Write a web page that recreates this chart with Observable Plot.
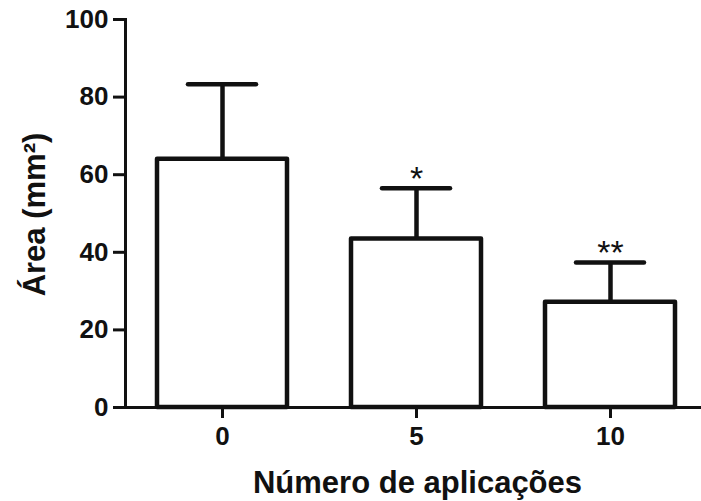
<!DOCTYPE html>
<html>
<head>
<meta charset="utf-8">
<script src="https://cdn.jsdelivr.net/npm/d3@7"></script>
<script src="https://cdn.jsdelivr.net/npm/@observablehq/plot@0.6"></script>
<style>
  html, body { margin: 0; padding: 0; background: #fff; }
</style>
</head>
<body>
<div id="chart"></div>
<script>
const categories = ["0", "5", "10"];
const means = [64.0, 43.4, 27.1];
const errors = [19.3, 13.1, 10.3];
const significance = ["", "*", "**"];
const yTicks = [0, 20, 40, 60, 80, 100];
const xTitle = "Número de aplicações";
const yTitle = "Área (mm²)";

const data = categories.map((c, i) => ({
  cat: c, mean: means[i], top: means[i] + errors[i], sig: significance[i]
}));

const font = "'Liberation Sans', Arial, Helvetica, sans-serif";

const chart = Plot.plot({
  width: 701,
  height: 501,
  marginLeft: 125,
  marginRight: 0,
  marginTop: 19,
  marginBottom: 94,
  style: { fontFamily: font, background: "#fff", color: "#111" },
  x: { type: "band", domain: categories, range: [125, 707], paddingInner: 0.33, paddingOuter: 0.165, label: null },
  y: { domain: [0, 100], label: null },
  marks: [
    Plot.ruleX(data, { x: "cat", y1: "mean", y2: "top", stroke: "#111", strokeWidth: 4.5 }),
    Plot.tickY(data, { x: "cat", y: "top", insetLeft: 31, insetRight: 31, stroke: "#111", strokeWidth: 4.5, strokeLinecap: "round" }),
    Plot.barY(data, { x: "cat", y: "mean", fill: "#fff", stroke: "#111", strokeWidth: 4.5, strokeLinejoin: "round" }),
    Plot.text(data, { x: "cat", y: "top", text: "sig", lineAnchor: "bottom", dy: 2, fontSize: 34, fill: "#111", fontFamily: font }),
    Plot.ruleY([0], { stroke: "#111", strokeWidth: 3 }),
    Plot.frame({ anchor: "left", stroke: "#111", strokeWidth: 3 }),
    Plot.axisY({ ticks: yTicks, tickSize: 12, tickPadding: 5, strokeWidth: 3, fontSize: 26, fontWeight: "bold", label: null, tickFormat: d => String(d) }),
    Plot.axisX({ tickSize: 11, tickPadding: 8, strokeWidth: 3, fontSize: 26, fontWeight: "bold", label: null }),
    Plot.text([xTitle], { frameAnchor: "bottom", dx: 4, dy: 85, lineAnchor: "bottom", textAnchor: "middle", fontSize: 31, fontWeight: "bold", fill: "#111", fontFamily: font }),
    Plot.text([yTitle], { frameAnchor: "left", dx: -90, dy: 1, rotate: -90, lineAnchor: "middle", textAnchor: "middle", fontSize: 31, fontWeight: "bold", fill: "#111", fontFamily: font })
  ]
});

document.getElementById("chart").appendChild(chart);
</script>
</body>
</html>
